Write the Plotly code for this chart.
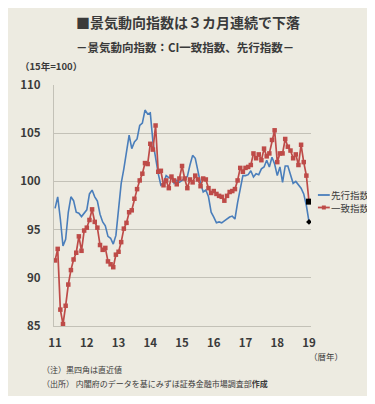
import plotly.graph_objects as go

# Monthly data, Jan 2011 .. Jan 2019 (2015=100)
years = ["11", "12", "13", "14", "15", "16", "17", "18", "19"]

leading = [
    97.2, 98.4, 96.1, 93.3, 94.0, 96.8, 98.4, 98.0, 96.8, 96.7, 96.35, 96.7,
    97.05, 98.7, 99.1, 98.4, 97.95, 96.6, 95.8, 95.4, 94.3, 94.1, 93.5, 94.4,
    96.8, 99.8, 101.3, 102.9, 104.8, 103.4, 104.1, 104.4, 105.8, 106.05, 107.4, 107.0,
    107.1, 104.1, 102.2, 100.8, 99.6, 99.8, 100.6, 100.4, 100.45, 99.8, 100.1, 99.9,
    100.1, 100.3, 100.5, 101.7, 102.7, 102.4, 101.1, 99.8, 98.9, 99.1, 98.4, 96.8,
    96.3, 95.7, 95.8, 95.7, 95.9, 96.1, 96.3, 96.4, 96.1, 97.8, 99.1, 100.6,
    100.6, 100.7, 101.1, 100.45, 100.8, 100.7, 101.3, 101.5, 102.2, 101.5, 102.5, 101.8,
    100.6, 101.5, 99.9, 101.6, 101.6, 100.8, 99.8, 100.0, 99.6, 99.3, 98.7, 97.5,
    95.8,
]

coincident = [
    91.8, 93.0, 86.7, 85.2, 87.1, 89.3, 90.8, 91.9, 92.6, 94.3, 92.8, 94.9,
    95.2, 96.0, 97.1, 95.8, 95.2, 93.4, 92.9, 93.1, 91.7, 91.4, 91.1, 92.4,
    92.7, 93.7, 95.1, 95.7, 96.8, 97.0, 98.2, 99.2, 100.1, 100.8, 101.9, 101.8,
    103.9, 103.3, 105.8, 101.0, 101.1, 99.6, 100.1, 99.3, 100.5, 100.1, 99.7, 100.3,
    101.6, 100.3, 99.3, 100.2, 99.9, 100.6, 100.2, 99.5, 100.3, 100.2, 99.3, 98.8,
    99.0, 98.7, 98.5, 98.4, 98.0, 98.5, 98.9, 99.0, 99.2, 100.1, 101.4, 101.0,
    101.4, 101.5, 101.7, 102.9, 102.4, 102.8, 102.2, 103.4, 102.6, 102.9, 104.3, 105.3,
    102.0, 102.9, 102.9, 104.4, 103.6, 103.2, 102.4, 102.8, 101.7, 103.8, 102.0, 100.6,
    97.9,
]

months = list(range(len(coincident)))
year_ticks = [12 * k for k in range(len(years))]
y_ticks = [85, 90, 95, 100, 105, 110]

BG = "#EDEBE1"
GRID = "#C3C1B7"
BLUE = "#4A7EBB"
RED = "#BE4B48"
TXT = "#3A3A3A"
FONT = "Noto Sans CJK JP"

# the page body adds an 8px margin on every side, so the figure is drawn smaller
OFF = 8
W, H = 375 - OFF, 404 - 2 * OFF
L, R, T = 51 - OFF, 64, 85 - OFF
B = H - (326 - OFF)
PW, PH = W - L - R, H - T - B


def px(x):
    return (x - OFF - L) / PW


def py(y):
    return (H - B - (y - OFF)) / PH


fig = go.Figure()
fig.add_trace(go.Scatter(
    x=months, y=leading, mode="lines", name="先行指数",
    line=dict(color=BLUE, width=1.6), showlegend=False,
))
fig.add_trace(go.Scatter(
    x=months, y=coincident, mode="lines+markers", name="一致指数",
    line=dict(color=RED, width=1.7),
    marker=dict(symbol="square", size=4.5, color=RED), showlegend=False,
))
# latest values (black markers)
fig.add_trace(go.Scatter(
    x=[months[-1]], y=[coincident[-1]], mode="markers",
    marker=dict(symbol="square", size=6, color="black"), showlegend=False,
))
fig.add_trace(go.Scatter(
    x=[months[-1]], y=[leading[-1]], mode="markers",
    marker=dict(symbol="diamond", size=4.5, color="black"), showlegend=False,
))

fig.update_xaxes(
    range=[-0.4, 96.75], tickvals=year_ticks, ticktext=years,
    showgrid=False, showline=True, linecolor=GRID, linewidth=1.2,
    zeroline=False, ticks="", ticklabelstandoff=6,
    tickfont=dict(family=FONT, size=11.5, color=TXT, weight="bold"),
)
fig.update_yaxes(
    range=[85, 110], tickvals=y_ticks,
    showgrid=True, gridcolor=GRID, gridwidth=1.2,
    showline=True, linecolor=GRID, linewidth=1.2,
    zeroline=False, ticks="", ticklabelstandoff=10,
    tickfont=dict(family=FONT, size=11.5, color=TXT, weight="bold"),
)

ann = []


def text(x, y, s, size, anchor="left", bold=True):
    ann.append(dict(
        x=px(x), y=py(y), xref="paper", yref="paper", text=s, showarrow=False,
        xanchor=anchor, yanchor="middle", borderpad=0,
        font=dict(family=FONT, size=size, color=TXT, weight="bold" if bold else "normal"),
    ))


text(72, 22, "■景気動向指数は３カ月連続で下落", 14)
text(72, 47, "－景気動向指数：CI一致指数、先行指数－", 11.5)
text(16, 66, "（15年=100）", 9.5)
text(308, 356, "（暦年）", 8.5, bold=False)
text(38, 369, "（注）黒四角は直近値", 8, bold=False)
text(38, 383, "（出所） 内閣府のデータを基にみずほ証券金融市場調査部<b>作成</b>", 8, bold=False)
text(330, 195, "先行指数", 9.5, bold=False)
text(330, 207.5, "一致指数", 9.5, bold=False)

shapes = [
    dict(type="line", xref="paper", yref="paper", x0=px(318), x1=px(330),
         y0=py(195), y1=py(195), line=dict(color=BLUE, width=1.8)),
    dict(type="line", xref="paper", yref="paper", x0=px(318), x1=px(330),
         y0=py(207.5), y1=py(207.5), line=dict(color=RED, width=1.8)),
    dict(type="rect", xref="paper", yref="paper", x0=px(322), x1=px(326),
         y0=py(205.5), y1=py(209.5), fillcolor=RED, line=dict(width=0)),
]

fig.update_layout(
    width=W, height=H, autosize=False,
    margin=dict(l=L, r=R, t=T, b=B, pad=0),
    paper_bgcolor=BG, plot_bgcolor=BG,
    annotations=ann, shapes=shapes, showlegend=False,
    font=dict(family=FONT, color=TXT),
)

fig.write_html("out.html")
